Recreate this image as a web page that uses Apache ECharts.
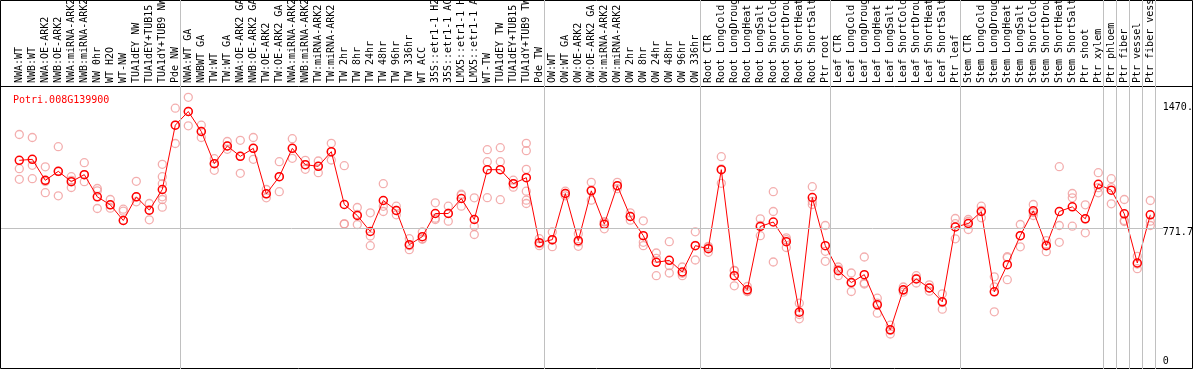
<!DOCTYPE html>
<html><head><meta charset="utf-8">
<script src="https://cdn.jsdelivr.net/npm/echarts@6/dist/echarts.min.js"></script>
<style>html,body{margin:0;padding:0;background:#fff}#c{width:1194px;height:370px}</style>
</head><body><div id="c"></div>
<script>
const geneName = 'Potri.008G139900';
const categories = [
 'NWA:WT','NWB:WT','NWA:OE-ARK2','NWB:OE-ARK2','NWA:miRNA-ARK2','NWB:miRNA-ARK2','NW 0hr','WT H2O','WT-NW','TUA1dEY NW','TUA1dEY+TUB15 NW','TUA1dY+TUB9 NW','Pde NW',
 'NWA:WT GA','NWBWT GA','TW:WT','TW:WT GA','NWA:OE-ARK2 GA','NWB:OE-ARK2 GA','TW:OE-ARK2','TW:OE-ARK2 GA','NWA:miRNA-ARK2 GA','NWB:miRNA-ARK2 GA','TW:miRNA-ARK2','TW:miRNA-ARK2 GA',
 'TW 2hr','TW 8hr','TW 24hr','TW 48hr','TW 96hr','TW 336hr','WT ACC','35S::etr1-1 H2O','35S::etr1-1 ACC','LMX5::etr1-1 H2O','LMX5::etr1-1 ACC','WT-TW','TUA1dEY TW','TUA1dEY+TUB15 TW','TUA1dY+TUB9 TW','Pde TW',
 'OW:WT','OW:WT GA','OW:OE-ARK2','OW:OE-ARK2 GA','OW:miRNA-ARK2','OW:miRNA-ARK2 GA','OW 2hr','OW 8hr','OW 24hr','OW 48hr','OW 96hr','OW 336hr',
 'Root CTR','Root LongCold','Root LongDrought','Root LongHeat','Root LongSalt','Root ShortCold','Root ShortDrought','Root ShortHeat','Root ShortSalt','Ptr root',
 'Leaf CTR','Leaf LongCold','Leaf LongDrought','Leaf LongHeat','Leaf LongSalt','Leaf ShortCold','Leaf ShortDrought','Leaf ShortHeat','Leaf ShortSalt','Ptr leaf',
 'Stem CTR','Stem LongCold','Stem LongDrought','Stem LongHeat','Stem LongSalt','Stem ShortCold','Stem ShortDrought','Stem ShortHeat','Stem ShortSalt','Ptr shoot','Ptr xylem',
 'Ptr phloem','Ptr fiber','Ptr vessel','Ptr fiber vessel'
];
const means = [
 1180,1186,1060,1114,1052,1094,961,913,819,961,881,1005,1391,
 1473,1353,1160,1266,1204,1252,979,1082,1252,1154,1144,1232,
 915,849,753,939,879,674,722,861,861,951,825,1124,1124,1040,1076,686,
 704,981,698,997,797,1028,843,728,568,580,510,668,
 650,1124,488,403,783,810,692,269,957,668,
 518,447,494,313,163,403,468,414,331,780,
 801,873,391,554,728,877,668,873,901,829,1036,
 1001,859,564,853
];
const replicates = [
 [1335,1130,1066],[1317,1150,1070],[1141,1053,986],[1262,1113,967],[1082,1060,1017],[1166,1094,1052],[1011,997,891],[945,913,893],[887,875,819],[1054,961,931],[921,881,823],[1156,1082,1040,961,945,899],[1493,1391,1281],
 [1558,1473,1387],[1391,1353,1317],[1190,1160,1120],[1293,1266,1246],[1300,1204,1102],[1317,1252,1186],[1005,979,955],[1172,1082,992],[1310,1252,1192],[1180,1154,1126],[1176,1144,1106],[1282,1232,1182],
 [1148,799,798],[897,855,795],[865,726,668],[1040,904,873],[905,879,853],[710,668,644],[750,710,706],[925,833,825],[905,863,815],[977,971,905],[955,785,735],[1244,1172,956],[1256,1172,944],[1061,1040,1019],[1282,1238,1126,995,941,921],[710,680,668],
 [750,700,662],[995,981,967],[740,690,664],[1048,1002,941],[811,811,769],[1048,1026,1010],[865,843,821],[817,688,668],[624,592,488],[692,548,504],[540,502,488],[751,670,582],
 [664,658,628],[1202,1128,1042],[520,517,427],[423,393,393],[829,790,728],[992,873,570],[715,704,657],[323,255,229],[1022,934,915],[789,634,574],
 [540,526,488],[504,444,393],[600,444,438],[353,323,263],[191,160,138],[420,400,389],[488,472,444],[433,414,395],[379,327,287],[831,800,709],
 [825,813,765],[905,879,835],[481,421,271],[602,596,464],[795,728,661],[915,867,849],[698,674,632],[1142,789,688],[981,955,785],[913,829,745],[1106,1016,985],
 [1070,1016,919],[945,819,813],[604,558,530],[939,815,789]
];
const separatorsAfter = [-1, 12, 40, 52, 62, 72, 83, 84, 85, 86, 87];
const yTickValues = [0, 771.7, 1470];
const yTickLabels = ['0', '771.7', '1470.'];
const refLineValue = 771.7;

const FONT = 'DejaVu Sans Mono';
const Y_MIN = -72, Y_MAX = 2142;
const chart = echarts.init(document.getElementById('c'), null, {renderer: 'canvas'});
const repData = [];
replicates.forEach((arr, i) => arr.forEach(v => repData.push([i, v])));

chart.setOption({
  animation: false,
  backgroundColor: '#fff',
  title: {
    text: geneName, left: 8, top: 90,
    textStyle: {color: '#ff0000', fontFamily: FONT, fontSize: 10, fontWeight: 'normal'}
  },
  grid: [
    {left: 12.8, right: 37.2, top: 0, bottom: 1, containLabel: false, outerBoundsMode: 'none'},
    {left: 1, right: 31, top: 0, bottom: 1, containLabel: false, outerBoundsMode: 'none'}
  ],
  xAxis: [{
    type: 'category', data: categories, position: 'top', offset: -86, gridIndex: 0,
    boundaryGap: true,
    axisLine: {show: false}, axisTick: {show: false}, splitLine: {show: false},
    axisLabel: {interval: 0, rotate: 90, margin: 3, hideOverlap: false, color: '#000', fontFamily: FONT, fontSize: 10}
  }, {
    type: 'value', min: -0.5, max: 87.5, show: false, gridIndex: 0
  }, {
    type: 'value', min: 0, max: 1, show: false, gridIndex: 1
  }],
  yAxis: [{
    type: 'value', min: Y_MIN, max: Y_MAX, position: 'right', gridIndex: 0,
    axisLine: {show: false}, axisTick: {show: false}, splitLine: {show: false},
    axisLabel: {
      customValues: yTickValues, margin: 6, color: '#000', fontFamily: FONT, fontSize: 10,
      formatter: v => {
        const i = yTickValues.indexOf(v);
        const t = i >= 0 ? yTickLabels[i] : '';
        return i === yTickValues.length - 1 ? '{hi|' + t + '}' : '{lo|' + t + '}';
      },
      rich: {
        lo: {padding: [8, 0, 0, 0], fontFamily: FONT, fontSize: 10, color: '#000'},
        hi: {padding: [0, 0, 9, 0], fontFamily: FONT, fontSize: 10, color: '#000'}
      }
    }
  }, {
    type: 'value', min: Y_MIN, max: Y_MAX, show: false, gridIndex: 1
  }],
  graphic: [
    {type: 'rect', silent: true, z: 0, shape: {x: 0.5, y: 0.5, width: 1192, height: 368}, style: {fill: null, stroke: '#000', lineWidth: 1}},
    {type: 'line', silent: true, z: 0, shape: {x1: 0, y1: 86.5, x2: 1193, y2: 86.5}, style: {stroke: '#000', lineWidth: 1}}
  ],
  series: [
    {
      type: 'scatter', xAxisIndex: 1, yAxisIndex: 0, data: [], silent: true, z: 1,
      markLine: {
        silent: true, symbol: 'none', animation: false, label: {show: false},
        lineStyle: {color: '#c0c0c0', type: 'solid', width: 1},
        data: separatorsAfter.map(k => ({xAxis: k + 0.41}))
      }
    },
    {
      type: 'scatter', xAxisIndex: 2, yAxisIndex: 1, data: [], silent: true, z: 1,
      markLine: {
        silent: true, symbol: 'none', animation: false, label: {show: false},
        lineStyle: {color: '#c0c0c0', type: 'solid', width: 1},
        data: [{yAxis: refLineValue}]
      }
    },
    {
      type: 'scatter', xAxisIndex: 0, yAxisIndex: 0, data: repData, clip: false, z: 2,
      symbol: 'circle', symbolSize: 8,
      itemStyle: {color: 'rgba(0,0,0,0)', borderColor: '#f09a9a', borderWidth: 1.3}
    },
    {
      type: 'line', xAxisIndex: 0, yAxisIndex: 0, data: means, clip: false, z: 3,
      symbol: 'circle', symbolSize: 8, showAllSymbol: true,
      lineStyle: {color: '#ff0000', width: 1},
      itemStyle: {color: 'rgba(0,0,0,0)', borderColor: '#ff0000', borderWidth: 1.5}
    }
  ]
});
</script>
</body></html>
